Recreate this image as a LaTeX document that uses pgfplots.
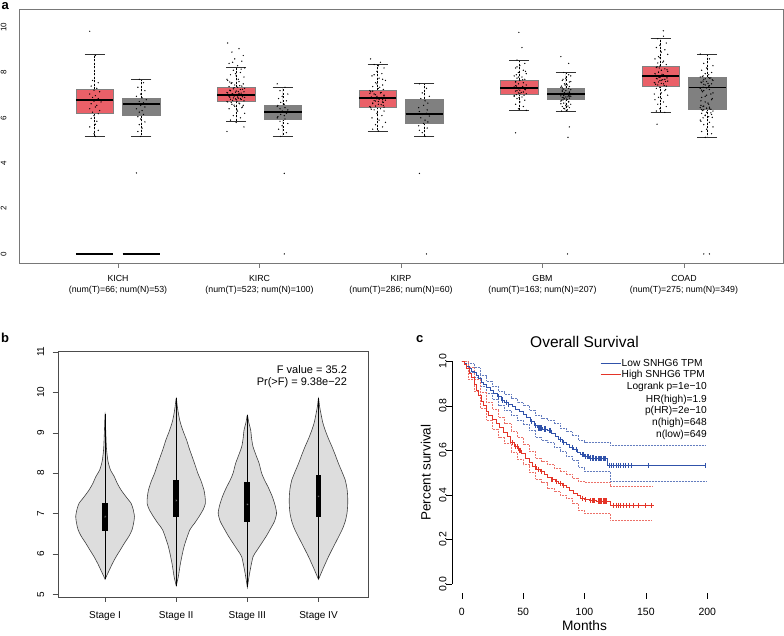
\documentclass[border=0pt]{standalone}
\usepackage{fontspec}
\setmainfont{Liberation Sans}
\usepackage{pgfplots}
\pgfplotsset{compat=1.18}
\usepgfplotslibrary{statistics}
\usepackage{pgfplotstable}
\definecolor{redbox}{RGB}{234,96,104}
\definecolor{greybox}{RGB}{128,128,128}
\definecolor{lowblue}{RGB}{48,82,170}
\definecolor{highred}{RGB}{228,52,40}
\definecolor{violinfill}{RGB}{221,221,221}
\definecolor{frame}{RGB}{120,120,120}

\pgfplotstableread{
d y
0 5.37
0.02 5.45
0.06 5.6
0.10 5.75
0.155 5.93
0.215 6.1
0.27 6.26
0.34 6.45
0.38 6.6
0.40 6.75
0.413 6.92
0.395 7.1
0.366 7.25
0.30 7.4
0.225 7.58
0.17 7.75
0.13 7.91
0.075 8.08
0.04 8.3
0.02 8.6
0.01 9.0
0 9.45
-0.01 9.0
-0.02 8.6
-0.04 8.3
-0.075 8.08
-0.13 7.91
-0.17 7.75
-0.225 7.58
-0.30 7.4
-0.366 7.25
-0.395 7.1
-0.413 6.92
-0.40 6.75
-0.38 6.6
-0.34 6.45
-0.27 6.26
-0.215 6.1
-0.155 5.93
-0.10 5.75
-0.06 5.6
-0.02 5.45
0 5.37
}\violinI

\pgfplotstableread{
d y
0 5.21
0.03 5.44
0.06 5.77
0.11 6.18
0.19 6.59
0.255 6.75
0.32 6.92
0.38 7.1
0.41 7.25
0.405 7.42
0.39 7.58
0.35 7.8
0.305 7.99
0.265 8.2
0.225 8.4
0.185 8.6
0.145 8.82
0.105 9.0
0.075 9.15
0.05 9.3
0.03 9.48
0.015 9.65
0 9.85
-0.015 9.65
-0.03 9.48
-0.05 9.3
-0.075 9.15
-0.105 9.0
-0.145 8.82
-0.185 8.6
-0.225 8.4
-0.265 8.2
-0.305 7.99
-0.35 7.8
-0.39 7.58
-0.405 7.42
-0.41 7.25
-0.38 7.1
-0.32 6.92
-0.255 6.75
-0.19 6.59
-0.11 6.18
-0.06 5.77
-0.03 5.44
0 5.21
}\violinII

\pgfplotstableread{
d y
0 5.17
0.02 5.4
0.04 5.6
0.08 5.93
0.14 6.1
0.2 6.26
0.27 6.45
0.315 6.59
0.38 6.8
0.41 7.0
0.39 7.2
0.35 7.42
0.29 7.66
0.24 7.83
0.20 8.0
0.165 8.24
0.12 8.45
0.08 8.65
0.06 8.85
0.047 9.06
0.02 9.25
0 9.43
-0.02 9.25
-0.047 9.06
-0.06 8.85
-0.08 8.65
-0.12 8.45
-0.165 8.24
-0.20 8.0
-0.24 7.83
-0.29 7.66
-0.35 7.42
-0.39 7.2
-0.41 7.0
-0.38 6.8
-0.315 6.59
-0.27 6.45
-0.2 6.26
-0.14 6.1
-0.08 5.93
-0.04 5.6
-0.02 5.4
0 5.17
}\violinIII

\pgfplotstableread{
d y
0 5.37
0.02 5.45
0.056 5.6
0.14 5.93
0.235 6.26
0.33 6.59
0.375 6.8
0.40 7.0
0.41 7.2
0.41 7.42
0.40 7.62
0.375 7.83
0.33 8.03
0.28 8.24
0.235 8.45
0.19 8.65
0.14 8.85
0.094 9.06
0.06 9.25
0.033 9.48
0.015 9.65
0 9.85
-0.015 9.65
-0.033 9.48
-0.06 9.25
-0.094 9.06
-0.14 8.85
-0.19 8.65
-0.235 8.45
-0.28 8.24
-0.33 8.03
-0.375 7.83
-0.40 7.62
-0.41 7.42
-0.41 7.2
-0.40 7.0
-0.375 6.8
-0.33 6.59
-0.235 6.26
-0.14 5.93
-0.056 5.6
-0.02 5.45
0 5.37
}\violinIV

\begin{document}
\begin{tikzpicture}
\useasboundingbox (0pt,0pt) rectangle (784pt,635pt);
\node[anchor=north west, inner sep=0pt, font=\bfseries\fontsize{13}{13}\selectfont] at (1.5pt,632.5pt) {a};
\node[anchor=north west, inner sep=0pt, font=\bfseries\fontsize{13}{13}\selectfont] at (1pt,302pt) {b};
\node[anchor=north west, inner sep=0pt, font=\bfseries\fontsize{13}{13}\selectfont] at (416pt,300pt) {c};

% ---------------- Panel a ----------------
\begin{axis}[
  at={(19pt,372pt)}, anchor=south west, scale only axis,
  width=764pt, height=254pt,
  xmin=0.3, xmax=5.7, ymin=-0.4, ymax=10.8,
  axis line style={draw=frame},
  xtick={1,2,3,4,5},
  xticklabels={{KICH\\(num(T)=66; num(N)=53)},{KIRC\\(num(T)=523; num(N)=100)},{KIRP\\(num(T)=286; num(N)=60)},{GBM\\(num(T)=163; num(N)=207)},{COAD\\(num(T)=275; num(N)=349)}},
  xticklabel style={align=center, font=\fontsize{8.8}{11}\selectfont, yshift=-4pt},
  tick align=outside, xtick pos=bottom, ytick pos=left,
  x tick style={draw=frame}, major tick length=5pt,
  ytick={0,2,4,6,8,10}, y tick style={draw=none},
  yticklabel style={rotate=90, anchor=south, font=\fontsize{8}{8}\selectfont},
  yticklabel shift=4pt,
  /pgf/number format/assume math mode=true,
  boxplot/draw direction=y,
  boxplot/every median/.style={black, line width=1.8pt},
  boxplot/draw/lower whisker/.code={
    \draw[black, dash pattern=on 2pt off 1.5pt, line width=0.5pt]
      (boxplot box cs:\pgfplotsboxplotvalue{lower quartile},0.5) -- (boxplot box cs:\pgfplotsboxplotvalue{lower whisker},0.5);
    \draw[black!80, line width=0.7pt]
      (boxplot whisker cs:\pgfplotsboxplotvalue{lower whisker},0) -- (boxplot whisker cs:\pgfplotsboxplotvalue{lower whisker},1);
  },
  boxplot/draw/upper whisker/.code={
    \draw[black, dash pattern=on 2pt off 1.5pt, line width=0.5pt]
      (boxplot box cs:\pgfplotsboxplotvalue{upper quartile},0.5) -- (boxplot box cs:\pgfplotsboxplotvalue{upper whisker},0.5);
    \draw[black!80, line width=0.7pt]
      (boxplot whisker cs:\pgfplotsboxplotvalue{upper whisker},0) -- (boxplot whisker cs:\pgfplotsboxplotvalue{upper whisker},1);
  },
]
\addplot[fill=redbox, draw=gray, boxplot prepared={draw position=0.835, lower whisker=5.18, lower quartile=6.2, median=6.78, upper quartile=7.27, upper whisker=8.8, box extend=0.265, whisker extend=0.14}] coordinates {};
\addplot[fill=greybox, draw=gray, boxplot prepared={draw position=1.165, lower whisker=5.18, lower quartile=6.1, median=6.6, upper quartile=6.86, upper whisker=7.7, box extend=0.265, whisker extend=0.14}] coordinates {};
\addplot[fill=redbox, draw=gray, boxplot prepared={draw position=1.835, lower whisker=5.83, lower quartile=6.73, median=7.02, upper quartile=7.34, upper whisker=8.22, box extend=0.265, whisker extend=0.14}] coordinates {};
\addplot[fill=greybox, draw=gray, boxplot prepared={draw position=2.165, lower whisker=5.18, lower quartile=5.95, median=6.27, upper quartile=6.55, upper whisker=7.34, box extend=0.265, whisker extend=0.14}] coordinates {};
\addplot[fill=redbox, draw=gray, boxplot prepared={draw position=2.835, lower whisker=5.42, lower quartile=6.46, median=6.86, upper quartile=7.22, upper whisker=8.37, box extend=0.265, whisker extend=0.14}] coordinates {};
\addplot[fill=greybox, draw=gray, boxplot prepared={draw position=3.165, lower whisker=5.18, lower quartile=5.76, median=6.17, upper quartile=6.84, upper whisker=7.52, box extend=0.265, whisker extend=0.14}] coordinates {};
\addplot[fill=redbox, draw=gray, boxplot prepared={draw position=3.835, lower whisker=6.33, lower quartile=7.05, median=7.33, upper quartile=7.68, upper whisker=8.55, box extend=0.265, whisker extend=0.14}] coordinates {};
\addplot[fill=greybox, draw=gray, boxplot prepared={draw position=4.165, lower whisker=6.3, lower quartile=6.81, median=7.05, upper quartile=7.3, upper whisker=8.0, box extend=0.265, whisker extend=0.14}] coordinates {};
\addplot[fill=redbox, draw=gray, boxplot prepared={draw position=4.835, lower whisker=6.24, lower quartile=7.41, median=7.83, upper quartile=8.27, upper whisker=9.49, box extend=0.265, whisker extend=0.14}] coordinates {};
\addplot[fill=greybox, draw=gray, boxplot prepared={draw position=5.165, lower whisker=5.14, lower quartile=6.4, median=7.34, upper quartile=7.78, upper whisker=8.81, box extend=0.265, whisker extend=0.14}] coordinates {};
% zero lines in KICH
\addplot[black, line width=1.8pt] coordinates {(0.7025,0) (0.9675,0)};
\addplot[black, line width=1.8pt] coordinates {(1.0325,0) (1.2975,0)};
% jittered points
\addplot[only marks, mark=*, mark size=0.42pt, black, opacity=0.9] coordinates {
(0.80,9.82)(0.84,8.75)(0.82,7.65)(0.86,7.55)(0.81,7.40)(0.85,7.30)(0.83,7.22)(0.87,7.15)(0.80,7.05)(0.84,6.98)(0.82,6.90)(0.86,6.85)(0.79,6.80)(0.83,6.74)(0.88,6.70)(0.81,6.62)(0.85,6.55)(0.84,6.48)(0.80,6.40)(0.87,6.32)(0.82,6.25)(0.86,6.18)(0.83,6.10)(0.81,5.98)(0.85,5.85)(0.84,5.72)(0.80,5.60)(0.86,5.45)(0.83,5.30)(0.84,5.18)
(1.15,7.70)(1.18,7.55)(1.14,7.35)(1.19,7.20)(1.16,7.05)(1.13,6.95)(1.17,6.88)(1.20,6.80)(1.15,6.72)(1.18,6.66)(1.14,6.60)(1.16,6.55)(1.19,6.48)(1.13,6.40)(1.17,6.32)(1.15,6.25)(1.18,6.15)(1.14,6.05)(1.16,5.95)(1.19,5.82)(1.15,5.70)(1.17,5.55)(1.14,5.40)(1.16,5.18)(1.13,3.57)
(1.775,9.30)(1.855,9.05)(1.805,8.9)(1.885,8.75)(1.825,8.6)(1.875,8.5)(1.785,8.4)(1.845,8.3)(1.895,8.2)(1.815,8.1)(1.865,8.0)(1.795,7.9)(1.835,7.85)(1.89,7.8)(1.77,7.7)
(1.775,7.65)(1.855,7.6)(1.805,7.55)(1.885,7.5)(1.825,7.45)(1.875,7.4)(1.785,7.38)(1.845,7.35)(1.895,7.3)(1.815,7.28)(1.865,7.25)(1.795,7.2)(1.835,7.18)(1.89,7.15)(1.77,7.12)
(1.775,7.1)(1.855,7.08)(1.805,7.05)(1.885,7.02)(1.825,7.0)(1.875,6.98)(1.785,6.95)(1.845,6.92)(1.895,6.9)(1.815,6.88)(1.865,6.85)(1.795,6.82)(1.835,6.8)(1.89,6.75)(1.77,6.72)
(1.775,6.7)(1.855,6.65)(1.805,6.6)(1.885,6.55)(1.825,6.5)(1.875,6.45)(1.785,6.4)(1.845,6.3)(1.895,6.2)(1.815,6.1)(1.865,6.0)(1.795,5.9)(1.835,5.8)(1.89,5.6)(1.77,5.4)
(1.80,7.52)(1.86,7.42)(1.82,7.33)(1.88,7.26)(1.79,7.22)(1.85,7.16)(1.83,7.13)(1.87,7.09)(1.81,7.06)(1.84,7.03)
(1.80,7.01)(1.86,6.99)(1.82,6.96)(1.88,6.93)(1.79,6.91)(1.85,6.87)(1.83,6.84)(1.87,6.81)(1.81,6.77)(1.84,6.73)
(1.80,6.68)(1.86,6.62)(1.82,6.56)(1.88,6.48)(1.79,7.58)(1.85,7.7)(1.83,7.95)(1.87,8.15)(1.81,8.45)(1.84,6.35)
(2.125,7.5)(2.18,7.35)(2.145,7.2)(2.2,7.05)(2.16,6.95)(2.135,6.85)(2.19,6.75)(2.15,6.68)(2.175,6.6)(2.13,6.55)
(2.125,6.5)(2.18,6.45)(2.145,6.4)(2.2,6.35)(2.16,6.3)(2.135,6.25)(2.19,6.2)(2.15,6.15)(2.175,6.1)(2.13,6.05)
(2.125,6.0)(2.18,5.95)(2.145,5.85)(2.2,5.75)(2.16,5.65)(2.135,5.5)(2.19,5.35)(2.15,5.18)(2.175,3.55)(2.175,0)
(2.785,8.6)(2.855,8.45)(2.81,8.35)(2.88,8.2)(2.83,8.05)(2.865,7.95)(2.795,7.85)(2.845,7.75)(2.89,7.65)(2.82,7.55)(2.87,7.45)(2.80,7.38)(2.84,7.3)(2.875,7.25)(2.78,7.2)
(2.785,7.15)(2.855,7.1)(2.81,7.05)(2.88,7.0)(2.83,6.95)(2.865,6.9)(2.795,6.86)(2.845,6.82)(2.89,6.78)(2.82,6.74)(2.87,6.7)(2.80,6.65)(2.84,6.6)(2.875,6.55)(2.78,6.5)
(2.785,6.45)(2.855,6.4)(2.81,6.35)(2.88,6.3)(2.83,6.2)(2.865,6.1)(2.795,6.0)(2.845,5.9)(2.89,5.8)(2.82,5.7)(2.87,5.6)(2.80,5.5)(2.84,5.42)(2.875,6.68)(2.78,7.08)
(2.80,7.18)(2.86,7.12)(2.82,7.02)(2.88,6.97)(2.79,6.92)(2.85,6.88)(2.83,6.84)(2.87,6.8)(2.81,6.76)(2.84,6.72)
(2.80,6.63)(2.86,6.58)(2.82,6.52)(2.88,6.47)(2.79,6.38)(2.85,7.35)(2.83,7.5)(2.87,7.7)(2.81,7.9)(2.84,8.3)
(3.13,7.5)(3.18,7.3)(3.15,7.1)(3.2,6.95)(3.14,6.85)(3.17,6.75)(3.19,6.65)(3.16,6.55)(3.125,6.45)(3.185,6.35)
(3.13,6.28)(3.18,6.2)(3.15,6.15)(3.2,6.08)(3.14,6.0)(3.17,5.9)(3.19,5.82)(3.16,5.75)(3.125,5.65)(3.185,5.55)
(3.13,5.45)(3.15,5.35)(3.17,5.18)(3.13,3.55)(3.18,0)
(3.833,9.77)(3.855,9.1)(3.82,8.55)(3.875,8.4)(3.84,8.3)(3.81,8.2)(3.865,8.1)(3.83,8.0)(3.885,7.95)(3.815,7.9)
(3.80,7.85)(3.855,7.8)(3.82,7.75)(3.875,7.7)(3.84,7.65)(3.81,7.6)(3.865,7.55)(3.83,7.5)(3.885,7.45)(3.815,7.4)
(3.80,7.36)(3.855,7.33)(3.82,7.3)(3.875,7.26)(3.84,7.22)(3.81,7.18)(3.865,7.14)(3.83,7.1)(3.885,7.06)(3.815,7.02)
(3.80,6.98)(3.855,6.92)(3.82,6.85)(3.875,6.78)(3.84,6.7)(3.81,6.6)(3.865,6.5)(3.83,6.4)(3.885,6.33)(3.81,5.34)
(3.81,7.42)(3.86,7.38)(3.83,7.28)(3.88,7.24)(3.82,7.2)(3.85,7.12)(3.84,7.08)(3.87,7.0)(3.80,6.95)(3.835,6.9)
(3.81,7.58)(3.86,7.68)(3.83,7.8)(3.88,8.05)(3.82,8.25)
(4.13,8.7)(4.185,8.4)(4.15,8.0)(4.2,7.85)(4.165,7.75)(4.14,7.65)(4.19,7.58)(4.155,7.5)(4.175,7.45)(4.135,7.4)
(4.13,7.35)(4.185,7.3)(4.15,7.27)(4.2,7.24)(4.165,7.2)(4.14,7.17)(4.19,7.14)(4.155,7.11)(4.175,7.08)(4.135,7.05)
(4.13,7.03)(4.185,7.0)(4.15,6.98)(4.2,6.95)(4.165,6.92)(4.14,6.9)(4.19,6.87)(4.155,6.84)(4.175,6.81)(4.135,6.78)
(4.13,6.74)(4.185,6.7)(4.15,6.65)(4.2,6.6)(4.165,6.55)(4.14,6.5)(4.19,6.45)(4.155,6.4)(4.175,6.35)(4.135,6.3)
(4.19,5.6)(4.18,5.14)(4.177,0)(4.15,7.06)(4.19,6.96)
(4.14,7.22)(4.19,7.12)(4.16,7.07)(4.2,7.02)(4.13,6.97)(4.18,6.93)(4.15,6.88)(4.17,6.83)(4.145,6.79)(4.185,6.72)
(4.14,7.32)(4.19,7.38)(4.16,7.45)(4.2,7.6)(4.13,6.62)(4.18,6.52)(4.15,6.42)(4.17,6.32)(4.145,7.7)(4.185,7.9)
(4.854,9.84)(4.855,9.6)(4.815,9.49)(4.875,9.3)(4.83,9.2)(4.805,9.1)(4.865,9.0)(4.84,8.9)(4.885,8.8)(4.82,8.7)
(4.795,8.6)(4.855,8.5)(4.815,8.42)(4.875,8.35)(4.83,8.28)(4.805,8.22)(4.865,8.16)(4.84,8.1)(4.885,8.05)(4.82,8.0)
(4.795,7.95)(4.855,7.9)(4.815,7.86)(4.875,7.82)(4.83,7.78)(4.805,7.74)(4.865,7.7)(4.84,7.66)(4.885,7.62)(4.82,7.58)
(4.795,7.54)(4.855,7.5)(4.815,7.45)(4.875,7.4)(4.83,7.35)(4.805,7.3)(4.865,7.2)(4.84,7.1)(4.885,7.0)(4.82,6.9)
(4.795,6.8)(4.855,6.7)(4.815,6.6)(4.875,6.5)(4.83,6.4)(4.805,6.3)(4.865,6.24)(4.81,5.72)(4.845,7.92)(4.825,8.2)
(4.80,7.88)(4.86,7.84)(4.82,7.8)(4.88,7.76)(4.81,7.72)(4.85,7.68)(4.83,7.64)(4.87,7.6)(4.79,7.56)(4.84,7.52)
(4.80,7.48)(4.86,7.43)(4.82,8.02)(4.88,8.12)(4.81,8.25)(4.85,8.45)(4.83,8.65)(4.87,7.25)(4.79,7.05)(4.84,6.85)
(5.115,8.81)(5.18,8.6)(5.14,8.4)(5.205,8.3)(5.16,8.2)(5.125,8.1)(5.195,8.0)(5.15,7.95)(5.175,7.9)(5.135,7.85)
(5.115,7.8)(5.18,7.75)(5.14,7.7)(5.205,7.65)(5.16,7.6)(5.125,7.55)(5.195,7.5)(5.15,7.45)(5.175,7.4)(5.135,7.35)
(5.115,7.3)(5.18,7.25)(5.14,7.2)(5.205,7.1)(5.16,7.0)(5.125,6.9)(5.195,6.8)(5.15,6.7)(5.175,6.6)(5.135,6.5)
(5.115,6.45)(5.18,6.4)(5.14,6.35)(5.205,6.3)(5.16,6.25)(5.125,6.2)(5.195,6.15)(5.15,6.1)(5.175,6.05)(5.135,6.0)
(5.115,5.9)(5.18,5.8)(5.14,5.7)(5.205,5.6)(5.16,5.5)(5.125,5.4)(5.195,5.3)(5.15,5.14)(5.175,7.78)(5.135,7.62)
(5.16,6.42)(5.19,6.38)(5.12,6.55)(5.14,0)(5.18,0)
(5.13,7.82)(5.19,7.76)(5.15,7.72)(5.2,7.68)(5.12,7.58)(5.17,7.52)(5.14,7.48)(5.18,7.42)(5.16,7.32)(5.125,7.22)
(5.13,7.15)(5.19,7.05)(5.15,6.95)(5.2,6.85)(5.12,6.75)(5.17,6.65)(5.14,6.52)(5.18,6.47)(5.16,6.43)(5.125,6.37)
(5.13,6.32)(5.19,6.22)(5.15,6.12)(5.2,6.02)(5.12,5.85)
};
\end{axis}

% ---------------- Panel b ----------------
\begin{axis}[
  at={(57.7pt,38.3pt)}, anchor=south west, scale only axis,
  width=310.6pt, height=245.7pt,
  xmin=0.334, xmax=4.70, ymin=4.94, ymax=11.02,
  axis line style={draw=black!70},
  tick style={draw=black!70}, tick align=outside, major tick length=5pt,
  xtick pos=bottom, ytick pos=left,
  xtick={1,2,3,4}, xticklabels={Stage I,Stage II,Stage III,Stage IV},
  ytick={5,6,7,8,9,10,11},
  xticklabel style={font=\fontsize{10}{10}\selectfont, yshift=-6pt},
  yticklabel style={rotate=90, anchor=south, font=\fontsize{10}{10}\selectfont},
  yticklabel shift=5pt,
  /pgf/number format/assume math mode=true,
]
\addplot[fill=violinfill, draw=black!75, line width=0.6pt, smooth, tension=0.4] table[x expr={1+\thisrow{d}}, y=y] {\violinI} -- cycle;
\addplot[fill=violinfill, draw=black!75, line width=0.6pt, smooth, tension=0.4] table[x expr={2+\thisrow{d}}, y=y] {\violinII} -- cycle;
\addplot[fill=violinfill, draw=black!75, line width=0.6pt, smooth, tension=0.4] table[x expr={3+\thisrow{d}}, y=y] {\violinIII} -- cycle;
\addplot[fill=violinfill, draw=black!75, line width=0.6pt, smooth, tension=0.4] table[x expr={4+\thisrow{d}}, y=y] {\violinIV} -- cycle;
\addplot[black, line width=0.5pt] coordinates {(1,5.37) (1,9.45)};
\addplot[black, line width=0.5pt] coordinates {(2,5.21) (2,9.85)};
\addplot[black, line width=0.5pt] coordinates {(3,5.17) (3,9.43)};
\addplot[black, line width=0.5pt] coordinates {(4,5.37) (4,9.85)};
\addplot[fill=black, draw=none] coordinates {(0.958,6.57) (1.042,6.57) (1.042,7.27) (0.958,7.27)} -- cycle;
\addplot[fill=black, draw=none] coordinates {(1.958,6.9) (2.042,6.9) (2.042,7.82) (1.958,7.82)} -- cycle;
\addplot[fill=black, draw=none] coordinates {(2.958,6.8) (3.042,6.8) (3.042,7.77) (2.958,7.77)} -- cycle;
\addplot[fill=black, draw=none] coordinates {(3.958,6.9) (4.042,6.9) (4.042,7.95) (3.958,7.95)} -- cycle;
\addplot[only marks, mark=*, mark size=1pt, mark options={draw=none, fill=white}] coordinates {(1,6.92) (2,7.32) (3,7.23) (4,7.42)};
\node[anchor=east, font=\fontsize{11}{11}\selectfont] at (axis cs:4.45,10.57) {F value = 35.2};
\node[anchor=east, font=\fontsize{11}{11}\selectfont] at (axis cs:4.45,10.23) {Pr(>F) = 9.38e−22};
\end{axis}

% ---------------- Panel c ----------------
\begin{axis}[
  at={(451.9pt,42.1pt)}, anchor=south west, scale only axis,
  width=265.2pt, height=240.8pt,
  xmin=-8, xmax=208, ymin=-0.04, ymax=1.04,
  axis x line*=bottom, axis y line*=left,
  axis line style={draw=none, -},
  tick align=outside, major tick length=6pt, tick style={draw=black},
  xtick={0,50,100,150,200}, ytick={0,0.2,0.4,0.6,0.8,1.0},
  xticklabel style={font=\fontsize{10.5}{10.5}\selectfont, yshift=-6pt},
  yticklabel style={rotate=90, anchor=south, font=\fontsize{10.5}{10.5}\selectfont, /pgf/number format/fixed, /pgf/number format/fixed zerofill, /pgf/number format/precision=1},
  yticklabel shift=-4pt,
  /pgf/number format/assume math mode=true,
  title={Overall Survival}, title style={font=\fontsize{15.5}{16}\selectfont, yshift=-5pt},
  xlabel={Months}, ylabel={Percent survival},
  xlabel style={font=\fontsize{13.7}{14}\selectfont, at={(axis description cs:0.5,-0.137)}, anchor=center},
  ylabel style={font=\fontsize{13.5}{14}\selectfont, at={(axis description cs:-0.098,0.5)}, anchor=center},
  legend style={at={(axis cs:112.6,1.012)}, anchor=north west, draw=none, fill=none, inner sep=0pt,
    font=\fontsize{10.2}{10.2}\selectfont, nodes={inner sep=0.6pt, text height=7.4pt, text depth=2pt}},
  legend cell align=left,
  legend image code/.code={\draw[#1, line width=0.9pt] (0pt,0pt) -- (20pt,0pt);},
]
\draw[black] (axis cs:0,-0.04) -- (axis cs:200,-0.04);
\draw[black] (axis cs:-8,0) -- (axis cs:-8,1);
% CI bands (dotted)
\addplot[const plot, forget plot, lowblue!75, densely dotted, line width=0.5pt] coordinates {
(0,1.0)(5,0.99)(10,0.97)(15,0.935)(20,0.91)(25,0.885)(30,0.865)(35,0.85)(40,0.835)(45,0.815)(50,0.80)(55,0.78)(60,0.755)(65,0.745)(70,0.735)(75,0.72)(80,0.70)(85,0.685)(90,0.665)(95,0.645)(100,0.634)(121,0.623)(199,0.623)};
\addplot[const plot, forget plot, lowblue!75, densely dotted, line width=0.5pt] coordinates {
(0,1.0)(5,0.95)(10,0.925)(15,0.885)(20,0.855)(25,0.83)(30,0.80)(35,0.78)(40,0.757)(45,0.735)(50,0.715)(55,0.69)(60,0.66)(65,0.645)(70,0.635)(75,0.615)(80,0.595)(85,0.575)(90,0.555)(95,0.525)(100,0.504)(121,0.459)(199,0.459)};
\addplot[const plot, forget plot, highred!70, densely dotted, line width=0.5pt] coordinates {
(0,1.0)(5,0.97)(10,0.92)(15,0.86)(20,0.815)(25,0.785)(30,0.75)(35,0.72)(40,0.685)(45,0.66)(50,0.625)(55,0.595)(60,0.565)(65,0.55)(70,0.535)(75,0.52)(80,0.505)(85,0.49)(90,0.475)(95,0.46)(100,0.456)(121,0.44)(155,0.44)};
\addplot[const plot, forget plot, highred!70, densely dotted, line width=0.5pt] coordinates {
(0,1.0)(5,0.92)(10,0.865)(15,0.79)(20,0.735)(25,0.695)(30,0.66)(35,0.63)(40,0.59)(45,0.56)(50,0.535)(55,0.50)(60,0.47)(65,0.455)(70,0.43)(75,0.415)(80,0.40)(85,0.385)(90,0.36)(95,0.33)(100,0.317)(121,0.287)(155,0.287)};
% KM curves
\addplot[const plot, lowblue, line width=0.9pt] coordinates {
(0,1.0)(2,0.99)(4,0.975)(6,0.965)(8,0.955)(10,0.948)(12,0.935)(14,0.92)(16,0.905)(18,0.893)(20,0.883)(23,0.87)(26,0.855)(29,0.84)(32,0.825)(35,0.815)(38,0.805)(41,0.795)(44,0.783)(47,0.772)(50,0.76)(53,0.745)(56,0.728)(59,0.71)(62,0.70)(66,0.695)(70,0.688)(73,0.675)(76,0.66)(79,0.648)(82,0.635)(85,0.625)(88,0.612)(91,0.603)(94,0.592)(97,0.58)(100,0.572)(104,0.565)(108,0.562)(119,0.532)(199,0.532)};
\addlegendentry{Low SNHG6 TPM}
\addplot[const plot, highred, line width=0.9pt] coordinates {
(0,1.0)(2,0.985)(4,0.965)(6,0.945)(8,0.925)(10,0.895)(12,0.87)(14,0.845)(16,0.82)(18,0.80)(20,0.775)(22,0.758)(25,0.738)(28,0.72)(31,0.70)(34,0.68)(37,0.66)(40,0.635)(43,0.615)(46,0.60)(49,0.585)(52,0.565)(55,0.545)(58,0.525)(61,0.512)(64,0.505)(67,0.49)(70,0.478)(73,0.468)(76,0.46)(79,0.45)(82,0.443)(85,0.435)(88,0.42)(91,0.408)(94,0.395)(97,0.385)(100,0.378)(104,0.373)(110,0.372)(121,0.352)(157,0.352)};
\addlegendentry{High SNHG6 TPM}
% censor marks
\addplot[only marks, forget plot, mark=|, mark size=2.6pt, lowblue, mark options={line width=0.6pt}] coordinates {
(30,0.84)(33,0.825)(36,0.815)(38,0.805)(57,0.728)(60,0.71)(62,0.70)(63,0.70)(64,0.70)(65,0.70)(67,0.695)(68,0.695)(71,0.688)(72,0.688)(80,0.648)(83,0.635)(90,0.612)(93,0.603)
(98,0.58)(99,0.58)(101,0.572)(102,0.572)(103,0.572)(105,0.565)(106,0.565)(107,0.565)(109,0.562)(110,0.562)(111,0.562)(112,0.562)(113,0.562)(114,0.562)(115,0.562)(116,0.562)(117,0.562)
(120.2,0.532)(122,0.532)(123.7,0.532)(125.5,0.532)(127.4,0.532)(129.4,0.532)(131.5,0.532)(133.5,0.532)(135.6,0.532)(138.4,0.532)(152,0.532)(198,0.532)};
\addplot[only marks, forget plot, mark=|, mark size=2.6pt, highred, mark options={line width=0.6pt}] coordinates {
(41,0.635)(44,0.615)(45,0.615)(47,0.60)(48,0.60)(60,0.525)(62,0.512)(65,0.505)(73,0.468)(74,0.468)(77,0.46)(80,0.45)(83,0.443)
(98,0.385)(101,0.378)(105,0.373)(106,0.373)(107,0.373)(108,0.373)(111,0.372)(112,0.372)(113,0.372)(114,0.372)(115,0.372)(116,0.372)(117,0.372)(118,0.372)
(123.5,0.352)(125.7,0.352)(127.5,0.352)(129.5,0.352)(131.6,0.352)(133.8,0.352)(136.5,0.352)(139.7,0.352)(143.8,0.352)(149.3,0.352)(154.7,0.352)};
\node[anchor=east, font=\fontsize{10.2}{10.2}\selectfont, inner sep=0pt] at (axis cs:199.8,0.885) {Logrank p=1e−10};
\node[anchor=east, font=\fontsize{10.2}{10.2}\selectfont, inner sep=0pt] at (axis cs:199.8,0.828) {HR(high)=1.9};
\node[anchor=east, font=\fontsize{10.2}{10.2}\selectfont, inner sep=0pt] at (axis cs:199.8,0.776) {p(HR)=2e−10};
\node[anchor=east, font=\fontsize{10.2}{10.2}\selectfont, inner sep=0pt] at (axis cs:199.8,0.721) {n(high)=648};
\node[anchor=east, font=\fontsize{10.2}{10.2}\selectfont, inner sep=0pt] at (axis cs:199.8,0.667) {n(low)=649};
\end{axis}
\end{tikzpicture}
\end{document}
